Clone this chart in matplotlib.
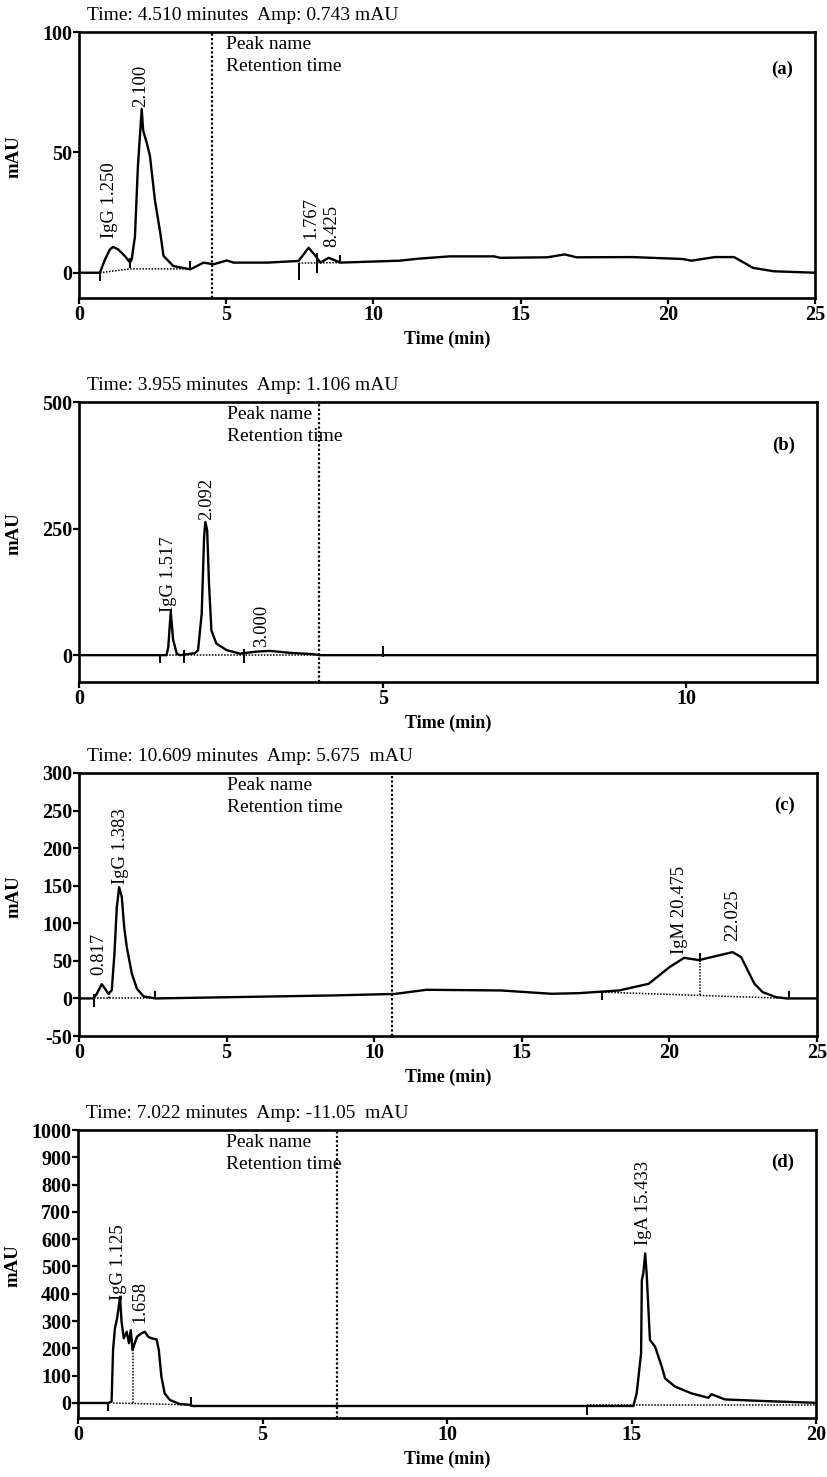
import matplotlib
matplotlib.use("Agg")
import matplotlib.pyplot as plt

plt.rcParams["font.family"] = ["Liberation Serif", "DejaVu Serif"]
plt.rcParams["axes.unicode_minus"] = False

# ---- panel (a) ----
a_time = [0, 0.71, 0.88, 1.05, 1.16, 1.33, 1.56, 1.73, 1.79, 1.9, 2.0, 2.13, 2.18, 2.3,
          2.41, 2.58, 2.76, 2.87, 3.2, 3.78, 4.23, 4.57, 5.02, 5.25, 6.4, 7.46, 7.8,
          8.03, 8.2, 8.48, 8.88, 10.9, 11.5, 12.6, 14.1, 14.3, 15.9, 16.5, 16.9, 18.8,
          20.5, 20.8, 21.6, 22.25, 22.9, 23.6, 25]
a_mau = [0, 0, 5.4, 9.7, 10.7, 9.7, 6.9, 4.3, 5.5, 15, 44, 68, 59, 54,
         48.5, 30, 16.6, 7, 2.8, 1.4, 4.2, 3.5, 5.1, 4.2, 4.2, 4.9, 10.4,
         7, 4.2, 6.2, 4.2, 5.0, 5.8, 6.8, 6.8, 6.2, 6.4, 7.6, 6.4, 6.5,
         5.7, 5.0, 6.5, 6.5, 2.0, 0.6, 0]
a_base_time = [[0.71, 1.73, 3.78], [7.46, 8.88]]
a_base_mau = [[0, 1.6, 1.6], [4.0, 4.2]]
a_mark_time = [0.71, 1.73, 3.78, 7.46, 8.1, 8.88]
a_mark_lo = [-3.5, 2, 1.4, -3, 0, 4]
a_mark_hi = [0.7, 6, 4.9, 4, 8, 7.5]
a_labels = ["IgG 1.250", "2.100", "1.767", "8.425"]
a_label_time = [1.05, 2.1, 7.86, 8.6]
a_label_mau = [14.5, 69, 14, 10.5]
a_cursor = 4.510
a_title = "Time: 4.510 minutes  Amp: 0.743 mAU"

# ---- panel (b) ----
b_time = [0, 1.44, 1.47, 1.51, 1.55, 1.61, 1.66, 1.91, 1.96, 2.02, 2.06, 2.08, 2.11,
          2.14, 2.18, 2.26, 2.43, 2.65, 2.92, 3.14, 3.47, 3.85, 3.96, 12.2]
b_mau = [0, 0, 16, 86, 30, 3, 0, 4, 10, 82, 234, 263, 247,
         142, 49, 23, 10, 3, 7, 8.5, 4.6, 2, 0, 0]
b_base_time = [[1.33, 5.0]]
b_base_mau = [[0, 0]]
b_mark_time = [1.33, 1.73, 2.72, 5.0]
b_mark_lo = [-16, -16, -16, -4]
b_mark_hi = [0, 10, 13, 19]
b_labels = ["IgG 1.517", "2.092", "3.000"]
b_label_time = [1.47, 2.1, 3.0]
b_label_mau = [86, 267, 16]
b_cursor = 3.955
b_title = "Time: 3.955 minutes  Amp: 1.106 mAU"

# ---- panel (c) ----
c_time = [0, 0.49, 0.6, 0.77, 0.88, 1.0, 1.11, 1.2, 1.28, 1.36, 1.45, 1.53, 1.62,
          1.79, 1.96, 2.19, 2.6, 8.65, 10.7, 11.77, 14.3, 16.0, 16.93, 18.3, 19.3,
          20.0, 20.5, 21.0, 22.14, 22.43, 22.88, 23.16, 23.6, 23.96, 25]
c_mau = [0, 0, 6, 19, 13, 6, 11, 59, 121, 148, 135, 95, 68,
         33, 13, 2.6, 0, 4, 6, 11.5, 10.6, 6.2, 7, 10.6, 19.5,
         41.6, 54, 51, 61.6, 55, 19.5, 8.4, 1.8, 0, 0]
c_base_time = [[0.52, 2.58], [17.72, 21.04, 24.05]]
c_base_mau = [[0, 0], [8.4, 4, 0]]
c_mark_time = [0.52, 2.58, 17.72, 21.04, 24.05]
c_mark_lo = [-12, 0, -1.8, 48, 0]
c_mark_hi = [6, 10, 8.6, 60, 10]
c_drop_time = [1.0, 21.04]
c_drop_lo = [0, 4]
c_drop_hi = [6, 50]
c_labels = ["0.817", "IgG 1.383", "IgM 20.475", "22.025"]
c_label_time = [0.66, 1.39, 20.33, 22.14]
c_label_mau = [30.6, 152, 59, 77]
c_cursor = 10.609
c_title = "Time: 10.609 minutes  Amp: 5.675  mAU"

# ---- panel (d) ----
d_time = [0, 0.82, 0.91, 0.95, 1.0, 1.06, 1.14, 1.18, 1.24, 1.32, 1.38, 1.43, 1.48,
          1.52, 1.6, 1.72, 1.81, 1.9, 1.99, 2.13, 2.19, 2.26, 2.35, 2.49, 2.76, 3.07,
          3.1, 15.05, 15.14, 15.26, 15.28, 15.32, 15.37, 15.41, 15.5, 15.64, 15.82,
          15.91, 16.18, 16.63, 17.08, 17.17, 17.53, 18.61, 19.92, 20]
d_mau = [0, 0, 5, 194, 273, 310, 389, 298, 237, 261, 219, 267, 194,
         212, 243, 255, 261, 243, 237, 233, 194, 96, 35, 11, -4, -7,
         -11, -11, 35, 182, 450, 475, 548, 475, 231, 206, 133,
         90, 60, 35, 19, 32, 13, 7, 1, 0]
d_base_time = [[0.95, 3.07], [13.79, 20]]
d_base_mau = [[0, -7], [-6, -6]]
d_mark_time = [0.82, 3.07, 13.79]
d_mark_lo = [-30, -13, -44]
d_mark_hi = [0, 23, -10]
d_drop_time = [1.5]
d_drop_lo = [0]
d_drop_hi = [200]
d_labels = ["IgG 1.125", "1.658", "IgA 15.433"]
d_label_time = [1.09, 1.68, 15.32]
d_label_mau = [377, 292, 579]
d_cursor = 7.022
d_title = "Time: 7.022 minutes  Amp: -11.05  mAU"

W, H = 828, 1477
fig = plt.figure(figsize=(W / 100, H / 100), dpi=100)


def px_rect(left, top, right, bottom):
    return [left / W, 1 - bottom / H, (right - left) / W, (bottom - top) / H]


panels = [
    dict(rect=px_rect(79, 32, 815, 298), xlim=(0, 25), ylim=(-10.5, 100),
         xticks=[0, 5, 10, 15, 20, 25], yticks=[0, 50, 100], tag="(a)", tag_dy=37,
         t=a_time, y=a_mau, bt=a_base_time, by=a_base_mau,
         mt=a_mark_time, mlo=a_mark_lo, mhi=a_mark_hi, dt=[], dlo=[], dhi=[],
         labels=a_labels, lt=a_label_time, ly=a_label_mau,
         cursor=a_cursor, title=a_title),
    dict(rect=px_rect(79, 402, 817, 682), xlim=(0, 12.15), ylim=(-53, 500),
         xticks=[0, 5, 10], yticks=[0, 250, 500], tag="(b)", tag_dy=43,
         t=b_time, y=b_mau, bt=b_base_time, by=b_base_mau,
         mt=b_mark_time, mlo=b_mark_lo, mhi=b_mark_hi, dt=[], dlo=[], dhi=[],
         labels=b_labels, lt=b_label_time, ly=b_label_mau,
         cursor=b_cursor, title=b_title),
    dict(rect=px_rect(79, 773, 817, 1036), xlim=(0, 25), ylim=(-50, 300),
         xticks=[0, 5, 10, 15, 20, 25], yticks=list(range(-50, 301, 50)), tag="(c)",
         tag_dy=32, t=c_time, y=c_mau, bt=c_base_time, by=c_base_mau,
         mt=c_mark_time, mlo=c_mark_lo, mhi=c_mark_hi,
         dt=c_drop_time, dlo=c_drop_lo, dhi=c_drop_hi,
         labels=c_labels, lt=c_label_time, ly=c_label_mau,
         cursor=c_cursor, title=c_title),
    dict(rect=px_rect(78, 1130, 816, 1418), xlim=(0, 20), ylim=(-55, 1000),
         xticks=[0, 5, 10, 15, 20], yticks=list(range(0, 1001, 100)), tag="(d)",
         tag_dy=32, t=d_time, y=d_mau, bt=d_base_time, by=d_base_mau,
         mt=d_mark_time, mlo=d_mark_lo, mhi=d_mark_hi,
         dt=d_drop_time, dlo=d_drop_lo, dhi=d_drop_hi,
         labels=d_labels, lt=d_label_time, ly=d_label_mau,
         cursor=d_cursor, title=d_title),
]

dots = (0, (1, 1))
for p in panels:
    ax = fig.add_axes(p["rect"])
    ax.plot(p["t"], p["y"], color="black", lw=1.7)
    for bt, by in zip(p["bt"], p["by"]):
        ax.plot(bt, by, color="black", lw=1.1, ls=dots)
    ax.vlines(p["mt"], p["mlo"], p["mhi"], color="black", lw=1.4)
    if p["dt"]:
        ax.vlines(p["dt"], p["dlo"], p["dhi"], color="black", lw=1.1, ls=dots)
    ax.axvline(p["cursor"], color="black", lw=1.6, ls=dots)
    for lab, lt, ly in zip(p["labels"], p["lt"], p["ly"]):
        ax.text(lt, ly, lab, rotation=90, ha="center", va="bottom", fontsize=13.4)

    ax.set_xlim(*p["xlim"])
    ax.set_ylim(*p["ylim"])
    ax.set_xticks(p["xticks"])
    ax.set_yticks(p["yticks"])
    ax.tick_params(direction="out", length=4, width=1.6, labelsize=14.5, pad=1,
                   top=False, right=False)
    for lbl in ax.get_xticklabels() + ax.get_yticklabels():
        lbl.set_fontweight("bold")
    for s in ax.spines.values():
        s.set_linewidth(1.9)

    ax.set_ylabel("mAU", fontsize=13.5, fontweight="bold")
    ax.yaxis.set_label_coords(-0.077, 0.53)
    ax.set_xlabel("Time (min)", fontsize=13, fontweight="bold", labelpad=4)

    ax.annotate(p["title"], xy=(0, 1), xycoords="axes fraction", xytext=(6, 12),
                textcoords="offset points", ha="left", va="center", fontsize=14)
    ax.annotate("Peak name", xy=(0.2, 1), xycoords="axes fraction", xytext=(0, -9),
                textcoords="offset points", ha="left", va="center", fontsize=14)
    ax.annotate("Retention time", xy=(0.2, 1), xycoords="axes fraction",
                xytext=(0, -24.5), textcoords="offset points", ha="left", va="center",
                fontsize=14)
    ax.annotate(p["tag"], xy=(1, 1), xycoords="axes fraction",
                xytext=(-16, -p["tag_dy"] * 0.72), textcoords="offset points",
                ha="right", va="center", fontsize=13.5, fontweight="bold")

fig.savefig("out.png", dpi=100)
